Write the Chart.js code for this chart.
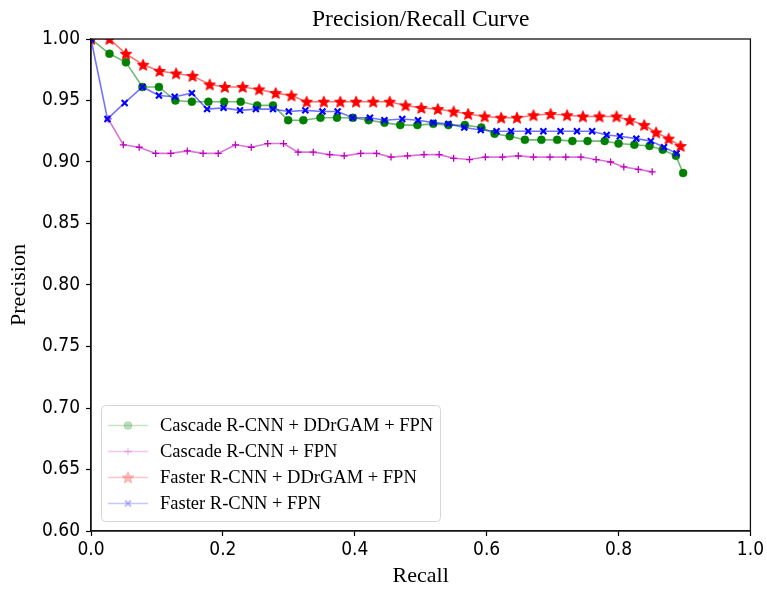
<!DOCTYPE html>
<html>
<head>
<meta charset="utf-8">
<script src="https://cdn.jsdelivr.net/npm/chart.js@4.4.1/dist/chart.umd.min.js"></script>
<style>
html,body{margin:0;padding:0;background:#fff;}
#wrap{width:767px;height:589px;position:relative;}
</style>
</head>
<body>
<div id="wrap"><canvas id="c" width="767" height="589"></canvas></div>
<script>
// ---- Data ----
const seriesLabels = [
  'Cascade R-CNN + DDrGAM + FPN',
  'Cascade R-CNN + FPN',
  'Faster R-CNN + DDrGAM + FPN',
  'Faster R-CNN + FPN'
];

const cascadeDdrgamRecall = [0, 0.028, 0.053, 0.078, 0.103, 0.128, 0.153, 0.178, 0.202, 0.227, 0.252, 0.276, 0.299, 0.322, 0.348, 0.373, 0.397, 0.421, 0.445, 0.469, 0.495, 0.519, 0.542, 0.567, 0.592, 0.612, 0.635, 0.658, 0.683, 0.707, 0.730, 0.753, 0.779, 0.800, 0.824, 0.847, 0.867, 0.887, 0.898];
const cascadeDdrgamPrecision = [1.0, 0.988, 0.981, 0.961, 0.961, 0.950, 0.949, 0.949, 0.949, 0.949, 0.946, 0.946, 0.934, 0.934, 0.936, 0.936, 0.936, 0.934, 0.932, 0.930, 0.930, 0.931, 0.930, 0.930, 0.928, 0.923, 0.921, 0.918, 0.918, 0.918, 0.917, 0.917, 0.917, 0.915, 0.914, 0.913, 0.910, 0.905, 0.891];

const cascadeFpnRecall = [0.026, 0.049, 0.073, 0.098, 0.121, 0.146, 0.170, 0.193, 0.219, 0.243, 0.268, 0.292, 0.314, 0.337, 0.362, 0.384, 0.409, 0.433, 0.455, 0.480, 0.505, 0.528, 0.550, 0.574, 0.598, 0.624, 0.648, 0.671, 0.696, 0.720, 0.743, 0.766, 0.788, 0.808, 0.830, 0.851];
const cascadeFpnPrecision = [0.935, 0.914, 0.912, 0.907, 0.907, 0.909, 0.907, 0.907, 0.914, 0.912, 0.915, 0.915, 0.908, 0.908, 0.906, 0.905, 0.907, 0.907, 0.904, 0.905, 0.906, 0.906, 0.903, 0.902, 0.904, 0.904, 0.905, 0.904, 0.904, 0.904, 0.904, 0.902, 0.900, 0.896, 0.894, 0.892];

const fasterDdrgamRecall = [0, 0.028, 0.053, 0.079, 0.104, 0.129, 0.154, 0.180, 0.203, 0.230, 0.255, 0.280, 0.304, 0.327, 0.353, 0.378, 0.402, 0.428, 0.453, 0.477, 0.501, 0.526, 0.550, 0.572, 0.597, 0.622, 0.646, 0.671, 0.697, 0.722, 0.746, 0.771, 0.797, 0.817, 0.839, 0.857, 0.876, 0.894];
const fasterDdrgamPrecision = [1.0, 1.0, 0.988, 0.979, 0.974, 0.972, 0.970, 0.963, 0.961, 0.961, 0.959, 0.956, 0.954, 0.949, 0.949, 0.949, 0.949, 0.949, 0.949, 0.946, 0.944, 0.943, 0.941, 0.939, 0.937, 0.936, 0.936, 0.938, 0.939, 0.938, 0.937, 0.937, 0.937, 0.934, 0.930, 0.924, 0.919, 0.913];

const fasterFpnRecall = [0, 0.025, 0.051, 0.078, 0.103, 0.127, 0.153, 0.176, 0.201, 0.226, 0.250, 0.276, 0.300, 0.325, 0.351, 0.374, 0.397, 0.423, 0.445, 0.472, 0.496, 0.519, 0.542, 0.566, 0.591, 0.615, 0.637, 0.663, 0.686, 0.712, 0.737, 0.760, 0.782, 0.802, 0.827, 0.849, 0.869, 0.888];
const fasterFpnPrecision = [1.0, 0.935, 0.948, 0.961, 0.954, 0.953, 0.956, 0.943, 0.944, 0.942, 0.943, 0.943, 0.941, 0.942, 0.941, 0.941, 0.936, 0.936, 0.934, 0.935, 0.934, 0.932, 0.931, 0.928, 0.926, 0.925, 0.925, 0.925, 0.925, 0.925, 0.925, 0.925, 0.922, 0.921, 0.919, 0.917, 0.912, 0.907];

const xTicks = [0.0, 0.2, 0.4, 0.6, 0.8, 1.0];
const yTicks = [0.60, 0.65, 0.70, 0.75, 0.80, 0.85, 0.90, 0.95, 1.00];

// ---- helpers ----
function pts(xs, ys) { return xs.map((x, i) => ({x: x, y: ys[i]})); }

function makeStar(color, outer, inner) {
  const size = Math.ceil(outer * 2 + 2);
  const cv = document.createElement('canvas');
  cv.width = size; cv.height = size;
  const c = cv.getContext('2d');
  const cx = size / 2, cy = size / 2 + 0.5;
  c.beginPath();
  for (let i = 0; i < 10; i++) {
    const r = i % 2 === 0 ? outer : inner;
    const a = -Math.PI / 2 + i * Math.PI / 5;
    const px = cx + r * Math.cos(a), py = cy + r * Math.sin(a);
    if (i === 0) c.moveTo(px, py); else c.lineTo(px, py);
  }
  c.closePath();
  c.fillStyle = color;
  c.fill();
  c.lineWidth = 1;
  c.strokeStyle = color;
  c.stroke();
  return cv;
}
const starImg = makeStar('#ff0000', 6, 2.7);
const starImgLegend = makeStar('rgba(255,0,0,0.25)', 6, 2.7);

const GREEN = '0,128,0', MAGENTA = '191,0,191', RED = '255,0,0', BLUE = '0,0,255';

const datasets = [
  {
    label: seriesLabels[0], data: pts(cascadeDdrgamRecall, cascadeDdrgamPrecision),
    borderColor: 'rgba(' + GREEN + ',0.55)', backgroundColor: 'rgb(' + GREEN + ')',
    pointBorderColor: 'rgb(' + GREEN + ')', pointBackgroundColor: 'rgb(' + GREEN + ')',
    pointStyle: 'circle', pointRadius: 4, pointBorderWidth: 0.5, order: 3, _rgb: GREEN
  },
  {
    label: seriesLabels[1], data: pts(cascadeFpnRecall, cascadeFpnPrecision),
    borderColor: 'rgba(' + MAGENTA + ',0.55)', backgroundColor: 'rgb(' + MAGENTA + ')',
    pointBorderColor: 'rgb(' + MAGENTA + ')', pointBackgroundColor: 'rgb(' + MAGENTA + ')',
    pointStyle: 'cross', pointRadius: 3.5, pointBorderWidth: 1.3, order: 2, _rgb: MAGENTA
  },
  {
    label: seriesLabels[2], data: pts(fasterDdrgamRecall, fasterDdrgamPrecision),
    borderColor: 'rgba(' + RED + ',0.55)', backgroundColor: 'rgb(' + RED + ')',
    pointBorderColor: 'rgb(' + RED + ')', pointBackgroundColor: 'rgb(' + RED + ')',
    pointStyle: starImg, pointRadius: 6, order: 1, _rgb: RED
  },
  {
    label: seriesLabels[3], data: pts(fasterFpnRecall, fasterFpnPrecision),
    borderColor: 'rgba(' + BLUE + ',0.55)', backgroundColor: 'rgb(' + BLUE + ')',
    pointBorderColor: 'rgb(' + BLUE + ')', pointBackgroundColor: 'rgb(' + BLUE + ')',
    pointStyle: 'crossRot', pointRadius: 4.2, pointBorderWidth: 2.1, order: 0, _rgb: BLUE
  }
];
datasets.forEach(d => { d.showLine = true; d.borderWidth = 1.6; d.pointHoverRadius = d.pointRadius; d.clip = 0; d.tension = 0; });

const frameAndLegend = {
  id: 'frameAndLegend',
  afterDatasetsDraw(chart) {
    const ctx = chart.ctx, ca = chart.chartArea;
    ctx.save();
    ctx.strokeStyle = '#111';
    ctx.lineWidth = 1.3;
    ctx.strokeRect(ca.left, ca.top, ca.right - ca.left, ca.bottom - ca.top);
    ctx.restore();
  },
  afterDraw(chart) {
    const ctx = chart.ctx, ca = chart.chartArea;
    const bx = ca.left + 10, by = ca.bottom - 126, bw = 339, bh = 116;
    ctx.save();
    ctx.beginPath();
    if (ctx.roundRect) ctx.roundRect(bx + 0.5, by + 0.5, bw, bh, 4); else ctx.rect(bx + 0.5, by + 0.5, bw, bh);
    ctx.fillStyle = 'rgba(255,255,255,0.85)';
    ctx.fill();
    ctx.strokeStyle = '#d6d6d6';
    ctx.lineWidth = 1;
    ctx.stroke();
    const ds = chart.data.datasets;
    ds.forEach((d, i) => {
      const ry = by + 20.5 + i * 26;
      const lx0 = bx + 7, lx1 = bx + 47, mx = (lx0 + lx1) / 2;
      ctx.strokeStyle = 'rgba(' + d._rgb + ',0.22)';
      ctx.lineWidth = 1.5;
      ctx.beginPath(); ctx.moveTo(lx0, ry); ctx.lineTo(lx1, ry); ctx.stroke();
      if (d.pointStyle === starImg) {
        ctx.drawImage(starImgLegend, mx - starImgLegend.width / 2, ry - starImgLegend.height / 2);
      } else {
        ctx.fillStyle = 'rgba(' + d._rgb + ',0.25)';
        ctx.strokeStyle = 'rgba(' + d._rgb + ',0.25)';
        ctx.lineWidth = d.pointBorderWidth || 1;
        Chart.helpers.drawPoint(ctx, {pointStyle: d.pointStyle, radius: d.pointRadius, borderWidth: d.pointBorderWidth, rotation: 0}, mx, ry);
      }
      ctx.fillStyle = '#000';
      ctx.font = '18.5px "Liberation Serif", "Times New Roman", serif';
      ctx.textAlign = 'left';
      ctx.textBaseline = 'middle';
      ctx.fillText(d.label, bx + 59, ry + 1);
    });
    ctx.restore();
  }
};

const tickFont = {family: '"DejaVu Sans Condensed", "DejaVu Sans", sans-serif', size: 19};
const serifFamily = '"Liberation Serif", "Times New Roman", serif';

new Chart(document.getElementById('c'), {
  type: 'scatter',
  data: {datasets: datasets},
  plugins: [frameAndLegend],
  options: {
    responsive: false,
    animation: false,
    devicePixelRatio: 1,
    layout: {padding: {left: 0, right: 15, top: 0, bottom: 0}},
    plugins: {
      legend: {display: false},
      tooltip: {enabled: false},
      title: {
        display: true, text: 'Precision/Recall Curve', fullSize: false,
        color: '#000', font: {family: serifFamily, size: 23.5, weight: 'normal'},
        padding: {top: 6, bottom: 4.8}
      }
    },
    scales: {
      x: {
        type: 'linear', min: 0, max: 1,
        afterBuildTicks: s => { s.ticks = xTicks.map(v => ({value: v})); },
        afterFit: s => { s.height = 58; },
        ticks: {color: '#000', font: tickFont, padding: 3, maxRotation: 0, callback: v => Number(v).toFixed(1)},
        grid: {display: true, drawOnChartArea: false, drawTicks: true, tickLength: 5, tickColor: '#000', tickWidth: 1.2},
        border: {display: true, color: '#111', width: 1.3},
        title: {display: true, text: 'Recall', color: '#000', font: {family: serifFamily, size: 22}, padding: {top: 0, bottom: 0}}
      },
      y: {
        type: 'linear', min: 0.6, max: 1.0,
        afterBuildTicks: s => { s.ticks = yTicks.map(v => ({value: v})); },
        afterFit: s => { s.width = 91; },
        ticks: {color: '#000', font: tickFont, padding: 6, callback: v => Number(v).toFixed(2)},
        grid: {display: true, drawOnChartArea: false, drawTicks: true, tickLength: 5, tickColor: '#000', tickWidth: 1.2},
        border: {display: true, color: '#111', width: 1.3},
        title: {display: true, text: 'Precision', color: '#000', font: {family: serifFamily, size: 22}, padding: {top: 6, bottom: 0}}
      }
    }
  }
});
</script>
</body>
</html>
